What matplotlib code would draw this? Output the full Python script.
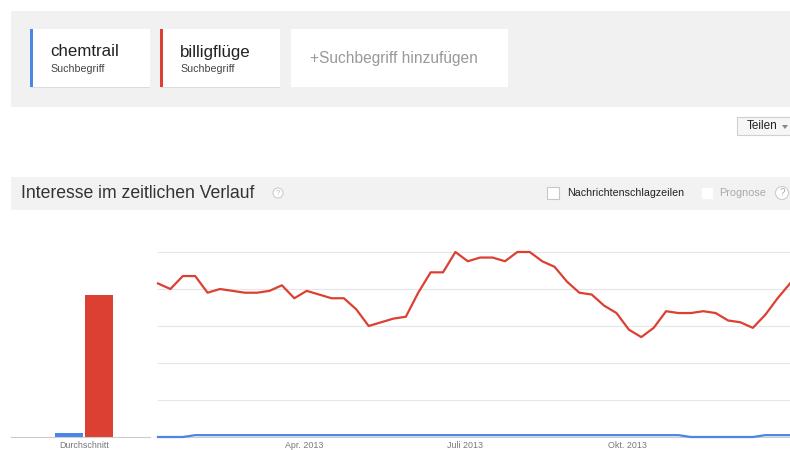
import matplotlib
matplotlib.use('Agg')
import matplotlib.pyplot as plt
from matplotlib.patches import Rectangle, Circle, Polygon

plt.rcParams['font.family'] = ['Liberation Sans', 'DejaVu Sans']

# Daten (woechentlich, 2013)
terms = ['chemtrail', 'billigflüge']
colors = ['#4a86e8', '#dc4032']
avg_values = [2, 77]
chemtrail = [0, 0, 0, 1, 1, 1, 1, 1, 1, 1, 1, 1, 1, 1, 1, 1, 1, 1, 1, 1,
             1, 1, 1, 1, 1, 1, 1, 1, 1, 1, 1, 1, 1, 1, 1, 1, 1, 1, 1, 1,
             1, 1, 1, 0, 0, 0, 0, 0, 0, 1, 1, 1]
billigfluege = [83, 80, 87, 87, 78, 80, 79, 78, 78, 79, 82, 75, 79, 77, 75, 75,
                69, 60, 62, 64, 65, 78, 89, 89, 100, 95, 97, 97, 95, 100, 100, 95,
                92, 84, 78, 77, 71, 67, 58, 54, 59, 68, 67, 67, 68, 67, 63, 62,
                59, 66, 75, 83]
month_ticks = [11.8, 24.8, 37.9]
month_labels = ['Apr. 2013', 'Juli 2013', 'Okt. 2013']

W, H = 790, 450
fig = plt.figure(figsize=(W / 100, H / 100), dpi=100)

# Hintergrund / UI in Pixelkoordinaten
bg = fig.add_axes([0, 0, 1, 1])
bg.set_xlim(0, W)
bg.set_ylim(H, 0)
bg.axis('off')

bg.add_patch(Rectangle((11, 11), 779, 96, color='#f1f1f1', lw=0))

# Suchbegriff-Karten
for x0, term, col in [(31, terms[0], colors[0]), (161, terms[1], colors[1])]:
    bg.add_patch(Rectangle((x0, 30), 119, 58, color='#dcdcdc', lw=0))
    bg.add_patch(Rectangle((x0, 29), 119, 58, color='white', lw=0))
    bg.add_patch(Rectangle((x0 - 1, 29), 3, 58, color=col, lw=0))
    bg.text(x0 + 19, 52, term, fontsize=12.2, color='#222222', va='center')
    bg.text(x0 + 19, 69, 'Suchbegriff', fontsize=7.7, color='#444444', va='center')

bg.add_patch(Rectangle((291, 29), 217, 58, color='white', lw=0))
bg.text(310, 58, '+Suchbegriff hinzufügen', fontsize=11.2, color='#999999', va='center')

# Teilen-Button
bg.add_patch(Rectangle((737, 117), 60, 18, facecolor='#f6f6f6', edgecolor='#d0d0d0', lw=0.8))
bg.text(747, 126, 'Teilen', fontsize=8.5, color='#222222', va='center')
bg.add_patch(Polygon([[782, 125], [788, 125], [785, 129]], color='#888888', lw=0))

# Abschnittskopf
bg.add_patch(Rectangle((11, 177), 779, 33, color='#f2f2f2', lw=0))
bg.text(21, 193, 'Interesse im zeitlichen Verlauf', fontsize=12.7, color='#333333', va='center')
bg.add_patch(Circle((278, 193), 5, facecolor='white', edgecolor='#cccccc', lw=0.8))
bg.text(278, 193.5, '?', fontsize=5.5, color='#bbbbbb', ha='center', va='center')

bg.add_patch(Rectangle((547, 187), 12, 12, facecolor='white', edgecolor='#c8c8c8', lw=0.8))
bg.text(567, 193, 'Nachrichtenschlagzeilen', fontsize=7.7, color='#222222', va='center')
bg.add_patch(Rectangle((701, 187), 12, 12, facecolor='white', edgecolor='#f4f4f4', lw=0.8))
bg.text(719, 193, 'Prognose', fontsize=7.8, color='#aaaaaa', va='center')
bg.add_patch(Circle((782, 193), 6.5, facecolor='white', edgecolor='#cccccc', lw=0.8))
bg.text(782, 193.5, '?', fontsize=7, color='#aaaaaa', ha='center', va='center')


def px_axes(x0, x1, y_bottom, y_top):
    return fig.add_axes([x0 / W, 1 - y_bottom / H, (x1 - x0) / W, (y_bottom - y_top) / H])


# Durchschnitt (Balken)
y_top_px = 215
ymax = (437 - y_top_px) / 1.85
axb = px_axes(11, 150, 437, y_top_px)
axb.patch.set_alpha(0)
axb.bar([0, 1], avg_values, width=0.93, color=colors)
axb.set_xlim(-1.93, 2.7)
axb.set_ylim(0, ymax)
axb.set_yticks([])
axb.set_xticks([0.5], ['Durchschnitt'])
for s in ['top', 'left', 'right']:
    axb.spines[s].set_visible(False)
axb.spines['bottom'].set_color('#cccccc')
axb.tick_params(axis='x', length=0, pad=2.6, labelsize=6.4, labelcolor='#777777')

# Zeitverlauf (Linien)
axl = px_axes(158, 790, 437, y_top_px)
axl.patch.set_alpha(0)
weeks = list(range(len(billigfluege)))
axl.plot(weeks, billigfluege, color=colors[1], lw=1.6, clip_on=False, zorder=3)
axl.plot(weeks, chemtrail, color=colors[0], lw=1.6, clip_on=False, zorder=3)
axl.set_xlim(0, len(weeks) - 1)
axl.set_ylim(0, ymax)
axl.set_yticks([20, 40, 60, 80, 100])
axl.yaxis.grid(True, color='#e6e6e6', lw=0.8)
axl.tick_params(axis='y', length=0, labelleft=False)
axl.set_xticks(month_ticks, month_labels)
axl.tick_params(axis='x', length=0, pad=2.6, labelsize=6.4, labelcolor='#777777')
for s in ['top', 'left', 'right']:
    axl.spines[s].set_visible(False)
axl.spines['bottom'].set_color('#cccccc')

fig.savefig('out.png', dpi=100)
